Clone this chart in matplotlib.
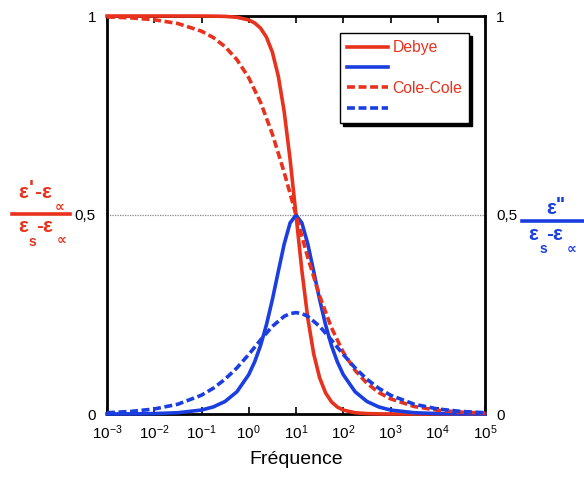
import numpy as np
import matplotlib
matplotlib.use("Agg")
import matplotlib.pyplot as plt
from matplotlib.lines import Line2D

plt.rcParams['font.family'] = ['Liberation Sans', 'DejaVu Sans']
plt.rcParams['mathtext.default'] = 'regular'

RED = '#e8321e'
BLUE = '#1b3ee0'

# ---- data (log10 of frequency, normalised values) ----
debye_logf = [-3, -2.5, -2, -1.5, -1, -0.75, -0.5, -0.25, 0, 0.125, 0.25, 0.375,
              0.5, 0.625, 0.75, 0.875, 1, 1.125, 1.25, 1.375, 1.5, 1.625, 1.75,
              1.875, 2, 2.25, 2.5, 2.75, 3, 3.5, 4, 4.5, 5]
debye_real = [1.0, 1.0, 1.0, 1.0, 0.9999, 0.9997, 0.999, 0.9968, 0.990, 0.9825,
              0.9694, 0.9468, 0.9091, 0.849, 0.7597, 0.640, 0.5, 0.360, 0.2403,
              0.151, 0.0909, 0.0532, 0.0306, 0.0175, 0.0099, 0.0032, 0.001,
              0.0003, 0.0001, 0.0, 0.0, 0.0, 0.0]
debye_imag = [0.0001, 0.0003, 0.001, 0.0032, 0.01, 0.0178, 0.0316, 0.056, 0.099,
              0.131, 0.172, 0.2245, 0.2875, 0.358, 0.427, 0.48, 0.5, 0.48, 0.427,
              0.358, 0.2875, 0.2245, 0.172, 0.131, 0.099, 0.056, 0.0316, 0.0178,
              0.01, 0.0032, 0.001, 0.0003, 0.0001]

cole_logf = [-3, -2.5, -2, -1.5, -1, -0.75, -0.5, -0.25, 0, 0.25, 0.5, 0.75,
             0.875, 1, 1.125, 1.25, 1.5, 1.75, 2, 2.25, 2.5, 2.75, 3, 3.5, 4,
             4.5, 5]
cole_real = [0.9977, 0.9953, 0.9906, 0.9811, 0.9619, 0.9458, 0.9228, 0.8903,
             0.8448, 0.7832, 0.7034, 0.6069, 0.5541, 0.5, 0.4459, 0.3931,
             0.2966, 0.2168, 0.1552, 0.1097, 0.0772, 0.0542, 0.0381, 0.0189,
             0.0094, 0.0047, 0.0023]
cole_imag = [0.0032, 0.0064, 0.0126, 0.0246, 0.0473, 0.0648, 0.0875, 0.1159,
             0.1496, 0.186, 0.2203, 0.2454, 0.2523, 0.2547, 0.2523, 0.2454,
             0.2203, 0.186, 0.1496, 0.1159, 0.0875, 0.0648, 0.0473, 0.0246,
             0.0126, 0.0064, 0.0032]

x_ticks_exp = [-3, -2, -1, 0, 1, 2, 3, 4, 5]
y_ticks = [0, 0.5, 1]
y_tick_labels = ['0', '0,5', '1']
legend_labels = ['Debye', ' ', 'Cole-Cole', ' ']
xlabel = 'Fréquence'

W, H = 584, 482
fig = plt.figure(figsize=(W / 100, H / 100), dpi=100)
L, R, T, B = 107, 485, 16, 414
ax = fig.add_axes([L / W, 1 - B / H, (R - L) / W, (B - T) / H])

f_d = 10.0 ** np.array(debye_logf)
f_c = 10.0 ** np.array(cole_logf)
lw = 2.6
dash = (0, (2.2, 1.0))
l1, = ax.plot(f_d, debye_real, color=RED, lw=lw, zorder=4, clip_on=False)
l2, = ax.plot(f_d, debye_imag, color=BLUE, lw=lw, zorder=4, clip_on=False)
l3, = ax.plot(f_c, cole_real, color=RED, lw=lw, ls=dash, zorder=4, clip_on=False)
l4, = ax.plot(f_c, cole_imag, color=BLUE, lw=lw, ls=dash, zorder=4, clip_on=False)

ax.axhline(0.5, color='#888888', lw=0.9, ls=(0, (1, 1)), zorder=1)

ax.set_xscale('log')
ax.set_xlim(1e-3, 1e5)
ax.set_ylim(0, 1)
ax.set_xticks([10.0 ** e for e in x_ticks_exp])
ax.set_xticklabels([r'$10^{%d}$' % e for e in x_ticks_exp])
ax.xaxis.set_minor_locator(matplotlib.ticker.NullLocator())
ax.tick_params(axis='x', direction='in', length=5, width=1.2, top=True,
               labelsize=11, pad=7, colors='black')
ax.set_yticks(y_ticks)
ax.set_yticklabels(y_tick_labels)
ax.tick_params(axis='y', length=0, labelsize=11, pad=8)
for s in ax.spines.values():
    s.set_linewidth(2)

ax2 = ax.twinx()
ax2.set_ylim(0, 1)
ax2.set_yticks(y_ticks)
ax2.set_yticklabels(y_tick_labels)
ax2.tick_params(axis='y', length=0, labelsize=11, pad=8)
for s in ax2.spines.values():
    s.set_visible(False)

ax.set_xlabel(xlabel, fontsize=14, labelpad=6)

leg = ax.legend([l1, l2, l3, l4], legend_labels, loc='upper left',
                bbox_to_anchor=(0.616, 0.957), frameon=True, fancybox=False,
                shadow={'color': 'black', 'alpha': 1}, fontsize=11.3,
                handlelength=2.6, handletextpad=0.3, labelspacing=0.34,
                borderpad=0.45, borderaxespad=0)
leg.get_frame().set_edgecolor('black')
leg.get_frame().set_linewidth(1.0)
leg.set_zorder(6)
for t in leg.get_texts():
    t.set_color(RED)


def fx(x):
    return x / W


def fy(y):
    return 1 - y / H


tk = dict(fontsize=15, fontweight='bold', ha='center', va='center')
sk = dict(fontsize=10, fontweight='bold', ha='center', va='center')
# left label (red)
fig.text(fx(23), fy(193), "ε", color=RED, **tk)
fig.text(fx(31), fy(189), "'", color=RED, **tk)
fig.text(fx(38), fy(193), "-", color=RED, **tk)
fig.text(fx(46), fy(193), "ε", color=RED, **tk)
fig.text(fx(60), fy(207), "∝", color=RED, **sk)
fig.add_artist(Line2D([fx(12), fx(70)], [fy(214), fy(214)], color=RED, lw=2.6))
fig.text(fx(23), fy(227), "ε", color=RED, **tk)
fig.text(fx(32), fy(242), "s", color=RED, **sk)
fig.text(fx(40), fy(227), "-", color=RED, **tk)
fig.text(fx(47), fy(227), "ε", color=RED, **tk)
fig.text(fx(62), fy(240), "∝", color=RED, **sk)
# right label (blue)
fig.text(fx(551), fy(209), "ε", color=BLUE, **tk)
fig.text(fx(561), fy(205), "''", color=BLUE, **tk)
fig.add_artist(Line2D([fx(522), fx(584)], [fy(221), fy(221)], color=BLUE, lw=2.6))
fig.text(fx(533), fy(234), "ε", color=BLUE, **tk)
fig.text(fx(543), fy(249), "s", color=BLUE, **sk)
fig.text(fx(550), fy(234), "-", color=BLUE, **tk)
fig.text(fx(557), fy(234), "ε", color=BLUE, **tk)
fig.text(fx(572), fy(249), "∝", color=BLUE, **sk)

fig.savefig('out.png', dpi=100)
